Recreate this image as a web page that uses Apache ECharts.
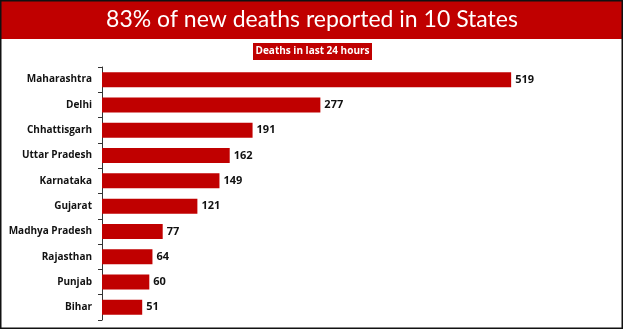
<!DOCTYPE html>
<html>
<head>
<meta charset="utf-8">
<script src="https://cdn.jsdelivr.net/npm/echarts@6/dist/echarts.min.js"></script>
<style>html,body{margin:0;padding:0;background:#fff}#c{width:623px;height:329px}</style>
</head>
<body>
<div id="c"></div>
<script>
const categories = ['Maharashtra','Delhi','Chhattisgarh','Uttar Pradesh','Karnataka','Gujarat','Madhya Pradesh','Rajasthan','Punjab','Bihar'];
const deaths = [519,277,191,162,149,121,77,64,60,51];
const titleText = '83% of new deaths reported in 10 States';
const subtitleText = 'Deaths in last 24 hours';

const chart = echarts.init(document.getElementById('c'), null, {renderer:'canvas'});
chart.setOption({
  animation:false,
  backgroundColor:'#fff',
  graphic:[
    {type:'rect', shape:{x:0,y:0,width:623,height:39}, style:{fill:'#C00000'}, z:0},
    {type:'text', x:312, y:20, style:{text:titleText, fill:'#fff', font:'23px Lato', align:'center', verticalAlign:'middle'}, z:1},
    {type:'rect', shape:{x:253,y:43,width:119,height:17}, style:{fill:'#C00000'}, z:0},
    {type:'text', x:312.5, y:51.5, style:{text:subtitleText, fill:'#fff', font:'bold 10px "Open Sans"', align:'center', verticalAlign:'middle'}, z:1},
    {type:'rect', shape:{x:0.75,y:0.75,width:621.5,height:327.5}, style:{fill:'none', stroke:'#111', lineWidth:1.5}, z:5}
  ],
  grid:{left:102, top:67, width:473, height:253, containLabel:false},
  xAxis:{type:'value', min:0, max:600, show:false},
  yAxis:{
    type:'category', data:categories, inverse:true,
    axisLine:{show:true, lineStyle:{color:'#333', width:1}},
    axisTick:{show:true, length:4, lineStyle:{color:'#333'}},
    axisLabel:{color:'#111', fontWeight:'bold', fontSize:10, fontFamily:'Open Sans', margin:10}
  },
  series:[{
    type:'bar', data:deaths, barWidth:15,
    itemStyle:{color:'#C00000'},
    label:{show:true, position:'right', distance:4, color:'#111', fontWeight:'bold', fontSize:11, fontFamily:'Open Sans'}
  }]
});
</script>
</body>
</html>
